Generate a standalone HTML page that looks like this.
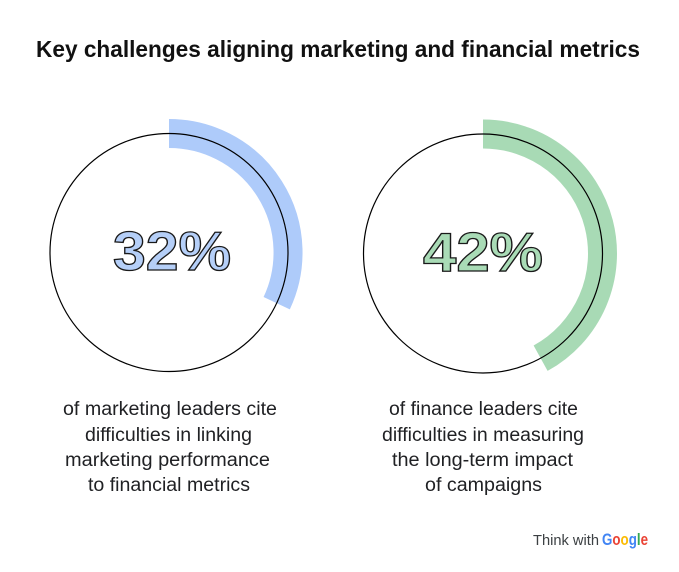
<!DOCTYPE html>
<html><head><meta charset="utf-8"><style>
html,body{margin:0;padding:0;background:#fff;}
svg{display:block;}
text{font-family:"Liberation Sans",sans-serif;}
</style></head><body>
<svg width="679" height="572" viewBox="0 0 679 572" xmlns="http://www.w3.org/2000/svg">
<rect width="679" height="572" fill="#fff"/>
<text x="36" y="57" font-size="23" font-weight="bold" fill="#111" textLength="604" lengthAdjust="spacingAndGlyphs">Key challenges aligning marketing and financial metrics</text>

<!-- left -->
<path d="M169 133.5 A119 119 0 0 1 276.7 303.2" fill="none" stroke="#aecbfa" stroke-width="29"/>
<circle cx="169" cy="252.5" r="119" fill="none" stroke="#000" stroke-width="1.2"/>
<text x="172" y="270" font-size="55" font-weight="bold" text-anchor="middle" fill="#b5cff8" stroke="#1a1a1a" stroke-width="1.3" textLength="118" lengthAdjust="spacingAndGlyphs">32%</text>

<!-- right -->
<path d="M483 134 A119.5 119.5 0 0 1 540.6 358.2" fill="none" stroke="#a8dab5" stroke-width="29"/>
<circle cx="483" cy="253.5" r="119.5" fill="none" stroke="#000" stroke-width="1.2"/>
<text x="483" y="271" font-size="55" font-weight="bold" text-anchor="middle" fill="#a9dbb6" stroke="#1a1a1a" stroke-width="1.3" textLength="120" lengthAdjust="spacingAndGlyphs">42%</text>

<g font-size="19" fill="#202124" text-anchor="middle">
<text x="170" y="415" textLength="214" lengthAdjust="spacingAndGlyphs">of marketing leaders cite</text>
<text x="168.5" y="441" textLength="167" lengthAdjust="spacingAndGlyphs">difficulties in linking</text>
<text x="167.5" y="466" textLength="205" lengthAdjust="spacingAndGlyphs">marketing performance</text>
<text x="169" y="491" textLength="162" lengthAdjust="spacingAndGlyphs">to financial metrics</text>

<text x="483.5" y="415" textLength="189" lengthAdjust="spacingAndGlyphs">of finance leaders cite</text>
<text x="483" y="441" textLength="202" lengthAdjust="spacingAndGlyphs">difficulties in measuring</text>
<text x="482.5" y="466" textLength="181" lengthAdjust="spacingAndGlyphs">the long-term impact</text>
<text x="483.5" y="491" textLength="117" lengthAdjust="spacingAndGlyphs">of campaigns</text>
</g>

<text x="533" y="545" font-size="15" fill="#3c4043" textLength="66" lengthAdjust="spacingAndGlyphs">Think with</text>
<text x="602" y="545" font-size="17" font-weight="bold" textLength="46" lengthAdjust="spacingAndGlyphs"><tspan fill="#4285f4">G</tspan><tspan fill="#ea4335">o</tspan><tspan fill="#fbbc05">o</tspan><tspan fill="#4285f4">g</tspan><tspan fill="#34a853">l</tspan><tspan fill="#ea4335">e</tspan></text>
</svg>
</body></html>
